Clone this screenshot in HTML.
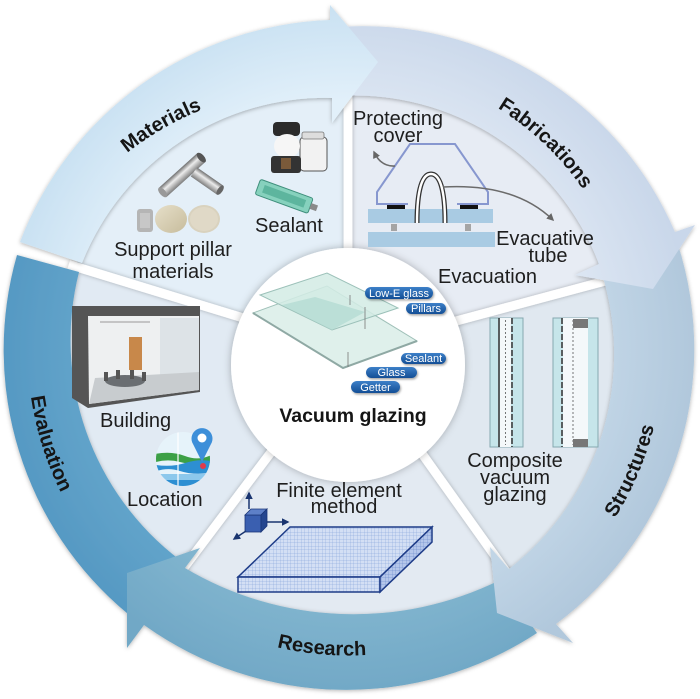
<!DOCTYPE html>
<html><head><meta charset="utf-8">
<style>
html,body{margin:0;padding:0;background:#fff;}
svg{display:block;}
text{font-family:"Liberation Sans",Arial,sans-serif;}
</style></head>
<body>
<svg xmlns="http://www.w3.org/2000/svg" width="700" height="699" viewBox="0 0 700 699">
<defs>
  <filter id="sh" filterUnits="userSpaceOnUse" x="0" y="0" width="700" height="699"><feDropShadow dx="0" dy="1" stdDeviation="2" flood-color="#000" flood-opacity="0.3"/></filter>
  <filter id="shg" filterUnits="userSpaceOnUse" x="0" y="0" width="700" height="699"><feDropShadow dx="0" dy="0" stdDeviation="2.2" flood-color="#000" flood-opacity="0.28"/></filter>
  <filter id="shc" filterUnits="userSpaceOnUse" x="0" y="0" width="700" height="699"><feDropShadow dx="0" dy="0" stdDeviation="4" flood-color="#000" flood-opacity="0.28"/></filter>
  <filter id="shp" filterUnits="userSpaceOnUse" x="0" y="0" width="700" height="699"><feDropShadow dx="1" dy="1.5" stdDeviation="1" flood-color="#000" flood-opacity="0.35"/></filter>
  <radialGradient id="gM" gradientUnits="userSpaceOnUse" cx="348" cy="350" r="345"><stop offset="0.72" stop-color="#e2f0fa"/><stop offset="1" stop-color="#c9e1f2"/></radialGradient>
  <radialGradient id="gF" gradientUnits="userSpaceOnUse" cx="348" cy="350" r="345"><stop offset="0.72" stop-color="#dbe5f2"/><stop offset="1" stop-color="#c9d7ea"/></radialGradient>
  <radialGradient id="gS" gradientUnits="userSpaceOnUse" cx="348" cy="350" r="345"><stop offset="0.75" stop-color="#c1d5e6"/><stop offset="1" stop-color="#b1c8dc"/></radialGradient>
  <radialGradient id="gR" gradientUnits="userSpaceOnUse" cx="348" cy="350" r="345"><stop offset="0.75" stop-color="#80b4ce"/><stop offset="1" stop-color="#71a8c6"/></radialGradient>
  <radialGradient id="gE" gradientUnits="userSpaceOnUse" cx="348" cy="350" r="345"><stop offset="0.75" stop-color="#63a5cb"/><stop offset="1" stop-color="#5699c3"/></radialGradient>
  <linearGradient id="gp" x1="0" y1="0" x2="0" y2="1"><stop offset="0" stop-color="#3d80c8"/><stop offset="1" stop-color="#134e95"/></linearGradient>
  <linearGradient id="gMetal" x1="0" y1="0" x2="0" y2="1"><stop offset="0" stop-color="#6f6f6f"/><stop offset="0.4" stop-color="#ececec"/><stop offset="1" stop-color="#7d7d7d"/></linearGradient>
  <linearGradient id="gDisc" x1="0" y1="0" x2="1" y2="1"><stop offset="0" stop-color="#e6dfc9"/><stop offset="1" stop-color="#c7bc9c"/></linearGradient>
  <pattern id="grid" width="3.5" height="3.5" patternUnits="userSpaceOnUse"><rect width="3.5" height="3.5" fill="#d3dff4"/><path d="M0 0H3.5M0 0V3.5" stroke="#7f9fd8" stroke-width="0.5"/></pattern>
  <pattern id="grid2" width="3.5" height="3.5" patternUnits="userSpaceOnUse"><rect width="3.5" height="3.5" fill="#b4c6ea"/><path d="M0 0H3.5M0 0V3.5" stroke="#5f80c6" stroke-width="0.5"/></pattern>
  <marker id="ah" viewBox="0 0 10 10" refX="8" refY="5" markerWidth="5" markerHeight="5" orient="auto"><path d="M0,0 L10,5 L0,10 z" fill="#1a3570"/></marker>
  <marker id="ag" viewBox="0 0 10 10" refX="8" refY="5" markerWidth="5" markerHeight="5" orient="auto"><path d="M0,0 L10,5 L0,10 z" fill="#666"/></marker>
  <path id="tpM" d="M57.6,234 A288,288 0 0 1 307,90"/>
  <path id="tpF" d="M415.4,73.6 A284.5,284.5 0 0 1 621.1,270.1"/>
  <path id="tpS" d="M537.4,602.3 A315.5,315.5 0 0 0 661.2,312.1"/>
  <path id="tpR" d="M172.8,600.3 A305.5,305.5 0 0 0 477.1,626.9"/>
  <path id="tpE" d="M35.2,280.1 A320.5,320.5 0 0 0 131.1,585.9"/>
  <clipPath id="globe"><circle cx="183" cy="459" r="27"/></clipPath>
</defs>

<rect width="700" height="699" fill="#fff"/>

<!-- segments -->
<path d="M348,350 L75.5,266.7 A285,285 0 0 1 348,65 Z" fill="#e4eff8"/>
<path d="M348,350 L348,65 A285,285 0 0 1 623.3,276.2 Z" fill="#e7ecf4"/>
<path d="M348,350 L623.3,276.2 A285,285 0 0 1 513.5,582 Z" fill="#e0e8f0"/>
<path d="M348,350 L513.5,582 A285,285 0 0 1 176.5,577.6 Z" fill="#e3eaf2"/>
<path d="M348,350 L176.5,577.6 A285,285 0 0 1 75.5,266.7 Z" fill="#e1eaf3"/>

<g stroke="#fff" stroke-width="9" filter="url(#shg)">
  <line x1="252.4" y1="320.8" x2="68.8" y2="264.6"/>
  <line x1="348" y1="250" x2="348" y2="58"/>
  <line x1="444.6" y1="324.1" x2="630" y2="274.4"/>
  <line x1="406.1" y1="431.4" x2="517.6" y2="587.7"/>
  <line x1="287.8" y1="429.9" x2="172.3" y2="583.2"/>
</g>

<circle cx="348" cy="365" r="117" fill="#fff" filter="url(#shc)"/>

<!-- ring arrows -->
<g filter="url(#sh)">
  <path d="M17,255 L79,272 A276,276 0 0 0 180,560 L128,614 A343,343 0 0 1 17,255 Z" fill="url(#gE)"/>
  <path d="M537,633 A348,348 0 0 1 144,625 L127,648 L127,573 L200,548 L185,568 A330,330 0 0 0 500,580 Z" fill="url(#gR)"/>
  <path d="M673,230 A343,343 0 0 1 556,624 L573,643 L497,613 L490,547 L509,569 A272,272 0 0 0 598,262 Z" fill="url(#gS)"/>
  <path d="M338,27 A340,340 0 0 1 675,232 L695,225 L653,289 L575,275 L599,264 A262,262 0 0 0 338,96 Z" fill="url(#gF)"/>
  <path d="M20,242 A345,345 0 0 1 330,20 L330,5 L378,62 L332,123 L332,98 A262,262 0 0 0 82,263 Z" fill="url(#gM)"/>
</g>

<!-- ring labels -->
<g font-size="20" font-weight="bold" fill="#151515">
  <text><textPath href="#tpM" startOffset="50%" text-anchor="middle">Materials</textPath></text>
  <text><textPath href="#tpF" startOffset="50%" text-anchor="middle">Fabrications</textPath></text>
  <text><textPath href="#tpS" startOffset="50%" text-anchor="middle">Structures</textPath></text>
  <text><textPath href="#tpR" startOffset="50%" text-anchor="middle">Research</textPath></text>
  <text><textPath href="#tpE" startOffset="50%" text-anchor="middle">Evaluation</textPath></text>
</g>

<!-- Materials segment images -->
<g transform="translate(182,175) rotate(-42)"><rect x="-26" y="-6" width="52" height="12" fill="url(#gMetal)"/><ellipse cx="26" cy="0" rx="3" ry="6" fill="#555"/><ellipse cx="-26" cy="0" rx="3" ry="6" fill="#999"/></g>
<g transform="translate(207,181) rotate(35)"><rect x="-16" y="-5.5" width="32" height="11" fill="url(#gMetal)"/><ellipse cx="16" cy="0" rx="2.5" ry="5.5" fill="#666"/></g>
<rect x="137" y="209" width="16" height="23" rx="3" fill="#b5b5b5"/>
<rect x="140" y="213" width="10" height="15" fill="#cfcfcf" opacity="0.7"/>
<ellipse cx="171" cy="219" rx="16" ry="14" fill="url(#gDisc)"/>
<ellipse cx="204" cy="219" rx="16" ry="14" fill="#d9d2be"/>
<ellipse cx="204" cy="219" rx="14" ry="12" fill="#e0d9c7"/>

<rect x="273" y="122" width="27" height="14" rx="4" fill="#2b2b2b"/>
<rect x="300" y="137" width="27" height="34" rx="4" fill="#f2f2f2" stroke="#555" stroke-width="1"/>
<rect x="302" y="132" width="22" height="7" rx="2" fill="#ddd" stroke="#777" stroke-width="0.8"/>
<ellipse cx="287" cy="146" rx="13" ry="12" fill="#f6f6f6"/>
<rect x="271" y="156" width="30" height="17" rx="3" fill="#333"/>
<rect x="281" y="158" width="10" height="11" fill="#7a5a3a"/>

<g transform="translate(286,197) rotate(20)">
  <rect x="-30" y="-8" width="56" height="16" rx="2" fill="#86d1bd" stroke="#3f8f7c" stroke-width="1"/>
  <rect x="-24" y="-4" width="44" height="8" fill="#5db59e"/>
  <rect x="26" y="-3" width="7" height="6" fill="#8a8a8a"/>
</g>

<!-- Fabrication diagram -->
<rect x="368" y="209" width="125" height="14" fill="#a9cbe3"/>
<rect x="368" y="232" width="127" height="15" fill="#a9cbe3"/>
<rect x="391" y="224" width="6" height="7" fill="#a5a5a5"/>
<rect x="465" y="224" width="6" height="7" fill="#a5a5a5"/>
<rect x="387" y="205" width="18" height="4" fill="#111"/>
<rect x="460" y="205" width="18" height="4" fill="#111"/>
<polyline points="408,204 377,204 377,192 410,144 455,144 488,192 488,204 457,204" fill="none" stroke="#8797cf" stroke-width="2"/>
<path d="M417,223 C417,190 422,174 431,174 C440,174 445,190 445,223" fill="none" stroke="#333" stroke-width="5"/>
<path d="M417,223 C417,190 422,174 431,174 C440,174 445,190 445,223" fill="none" stroke="#fff" stroke-width="2.4"/>
<path d="M443,187 Q515,183 553,220" fill="none" stroke="#6b6b6b" stroke-width="1.5" marker-end="url(#ag)"/>
<path d="M395,166 Q381,167 374,152" fill="none" stroke="#6b6b6b" stroke-width="1.5" marker-end="url(#ag)"/>

<!-- Composite panels -->
<rect x="490" y="318" width="33" height="129" fill="#c6e5ea" stroke="#86a9b0" stroke-width="1"/>
<rect x="500" y="318" width="11" height="129" fill="#f4f8fa"/>
<line x1="499" y1="318" x2="499" y2="447" stroke="#3d3d3d" stroke-width="1.6"/>
<line x1="512" y1="318" x2="512" y2="447" stroke="#3d3d3d" stroke-width="1.6" stroke-dasharray="6,2"/>
<line x1="505.5" y1="320" x2="505.5" y2="445" stroke="#555" stroke-width="0.8" stroke-dasharray="2,2"/>
<rect x="553" y="318" width="45" height="129" fill="#c6e5ea" stroke="#86a9b0" stroke-width="1"/>
<rect x="563" y="318" width="25" height="129" fill="#f4f8fa"/>
<line x1="562" y1="318" x2="562" y2="447" stroke="#3d3d3d" stroke-width="1.6" stroke-dasharray="6,2"/>
<line x1="573" y1="320" x2="573" y2="445" stroke="#555" stroke-width="0.8" stroke-dasharray="2,2"/>
<rect x="573" y="319" width="15" height="9" fill="#777"/>
<rect x="573" y="439" width="15" height="8" fill="#777"/>

<!-- Building -->
<polygon points="72,306 200,306 200,392 88,408 72,398" fill="#555"/>
<polygon points="88,316 199,316 199,390 89,404" fill="#eef0f1"/>
<rect x="160" y="318" width="39" height="70" fill="#dde3e7"/>
<polygon points="95,378 199,372 199,390 89,404" fill="#c8cccf"/>
<line x1="100" y1="322" x2="150" y2="322" stroke="#999" stroke-width="1"/>
<rect x="129" y="337" width="13" height="33" fill="#c8884a"/>
<ellipse cx="125" cy="381" rx="20" ry="6" fill="#6a6e72"/>
<g fill="#555"><rect x="104" y="372" width="4" height="9"/><rect x="116" y="370" width="4" height="9"/><rect x="130" y="370" width="4" height="9"/><rect x="142" y="372" width="4" height="9"/></g>

<!-- Location -->
<g clip-path="url(#globe)">
  <rect x="150" y="430" width="70" height="60" fill="#e6f3fa"/>
  <path d="M150,455 Q170,450 185,456 T215,453 L215,462 Q195,466 180,462 T150,464 Z" fill="#3ca046"/>
  <path d="M150,464 Q170,468 185,463 T215,462 L215,472 Q195,476 180,471 T150,474 Z" fill="#2d8fd2"/>
  <rect x="150" y="474" width="70" height="6" fill="#8cc8ec"/>
  <rect x="150" y="480" width="70" height="10" fill="#2d8fd2"/>
  <line x1="178" y1="430" x2="178" y2="490" stroke="#fff" stroke-width="1.2"/>
</g>
<path d="M202,462 L193,444 A10.5,10.5 0 1 1 211,444 Z" fill="#3d8fd9"/>
<circle cx="202" cy="438" r="4.5" fill="#fff"/>
<circle cx="203" cy="466" r="3" fill="#e03b4b"/>

<!-- FEM -->
<rect x="245" y="515" width="16" height="17" fill="#3a5fb0" stroke="#1b3678" stroke-width="0.8"/>
<polygon points="245,515 251,509 267,509 261,515" fill="#5e80c8" stroke="#1b3678" stroke-width="0.8"/>
<polygon points="261,515 267,509 267,526 261,532" fill="#25468f" stroke="#1b3678" stroke-width="0.8"/>
<line x1="249" y1="509" x2="249" y2="493" stroke="#1a3570" stroke-width="1.5" marker-end="url(#ah)"/>
<line x1="267" y1="522" x2="288" y2="522" stroke="#1a3570" stroke-width="1.5" marker-end="url(#ah)"/>
<line x1="246" y1="531" x2="234" y2="539" stroke="#1a3570" stroke-width="1.5" marker-end="url(#ah)"/>
<polygon points="290,527 432,527 380,577 238,577" fill="url(#grid)" stroke="#1e3c88" stroke-width="1.5"/>
<polygon points="238,577 380,577 380,592 238,592" fill="url(#grid)" stroke="#1e3c88" stroke-width="1.5"/>
<polygon points="380,577 432,527 432,542 380,592" fill="url(#grid2)" stroke="#1e3c88" stroke-width="1.5"/>

<!-- Center glass panes -->
<polygon points="253,313 327,286 417,341 343,368" fill="#dceee9" fill-opacity="0.9" stroke="#9fc0b8" stroke-width="1"/>
<polyline points="253,313 343,368 417,341" fill="none" stroke="#8fa9a4" stroke-width="2"/>
<polygon points="260,295 327,273 398,308 332,330" fill="#d2ebe4" fill-opacity="0.85" stroke="#9cc1b9" stroke-width="1"/>
<polygon points="282,305 315,297 365,312 332,330" fill="#b4dcd3" fill-opacity="0.8"/>
<g stroke="#777" stroke-width="0.8">
  <line x1="350" y1="295" x2="350" y2="305"/>
  <line x1="365" y1="307" x2="365" y2="329"/>
  <line x1="348" y1="352" x2="348" y2="367"/>
</g>

<!-- pills -->
<g filter="url(#shp)">
  <rect x="365" y="287" width="68" height="12" rx="6" fill="url(#gp)"/>
  <rect x="406" y="303" width="40" height="11" rx="5.5" fill="url(#gp)"/>
  <rect x="401" y="353" width="45" height="11" rx="5.5" fill="url(#gp)"/>
  <rect x="366" y="367" width="51" height="11" rx="5.5" fill="url(#gp)"/>
  <rect x="351" y="381" width="49" height="12" rx="6" fill="url(#gp)"/>
</g>
<g font-size="11" fill="#fff" text-anchor="middle">
  <text x="399" y="297">Low-E glass</text>
  <text x="426" y="312">Pillars</text>
  <text x="423.5" y="362">Sealant</text>
  <text x="391.5" y="376">Glass</text>
  <text x="375.5" y="391">Getter</text>
</g>

<!-- segment labels -->
<g font-size="20" fill="#1e1e1e">
  <text x="173" y="256" text-anchor="middle">Support pillar</text>
  <text x="173" y="278" text-anchor="middle">materials</text>
  <text x="255" y="232">Sealant</text>
  <text x="398" y="125" text-anchor="middle">Protecting</text>
  <text x="398" y="142" text-anchor="middle">cover</text>
  <text x="545" y="245" text-anchor="middle">Evacuative</text>
  <text x="548" y="262" text-anchor="middle">tube</text>
  <text x="438" y="283">Evacuation</text>
  <text x="515" y="467" text-anchor="middle">Composite</text>
  <text x="515" y="484" text-anchor="middle">vacuum</text>
  <text x="515" y="501" text-anchor="middle">glazing</text>
  <text x="339" y="497" text-anchor="middle">Finite element</text>
  <text x="344" y="513" text-anchor="middle">method</text>
  <text x="100" y="427">Building</text>
  <text x="127" y="506">Location</text>
</g>
<text x="353" y="422" text-anchor="middle" font-size="19.5" font-weight="bold" fill="#151515">Vacuum glazing</text>
</svg>
</body></html>
